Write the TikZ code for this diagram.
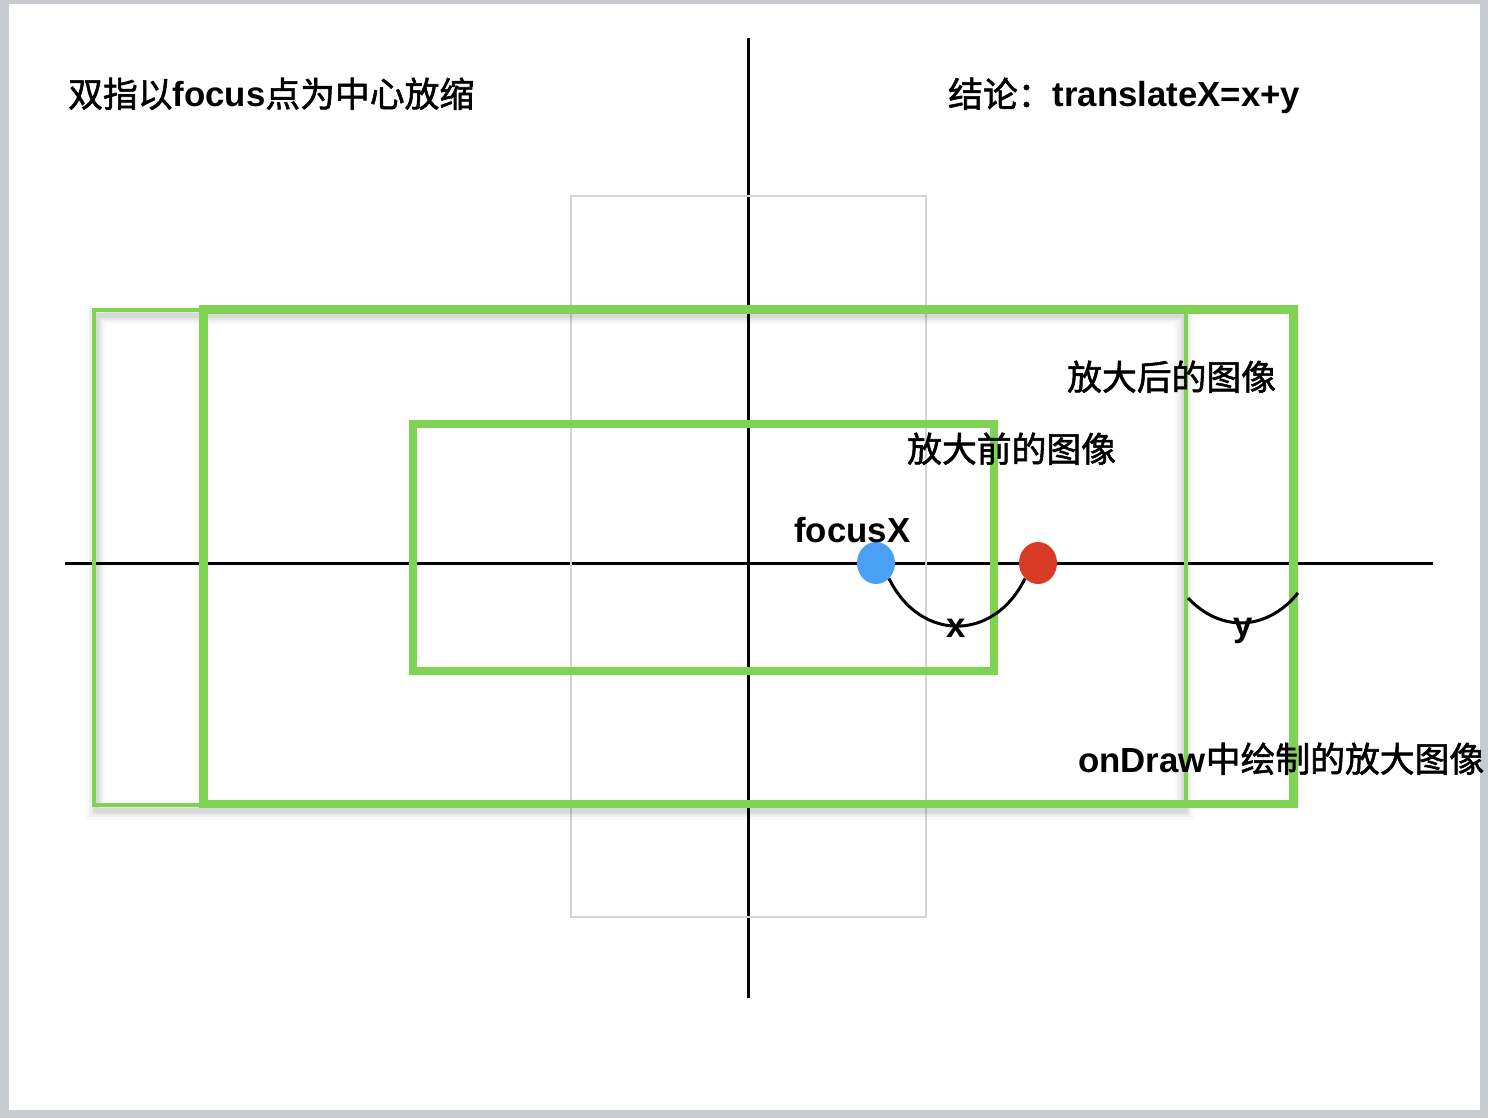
\documentclass[tikz,border=0pt]{standalone}
\usepackage{fontspec}
\usetikzlibrary{shapes.geometric}
\newfontfamily\cjk[FakeBold=1.6]{Noto Sans CJK SC}
\newfontfamily\lat{Liberation Sans}
\definecolor{frame}{RGB}{200,203,208}
\definecolor{grn}{RGB}{126,211,83}
\definecolor{lgray}{RGB}{212,212,212}
\definecolor{dotblue}{RGB}{74,160,245}
\definecolor{dotred}{RGB}{216,58,38}
\newcommand\ZHt[1]{{\cjk #1}}
\newcommand\LTt[1]{{\lat\bfseries #1}}
\tikzset{
  lbl/.style={anchor=base west, inner sep=0pt, font=\fontsize{34.8}{40}\selectfont},
  axisline/.style={line width=3pt, black},
  thinbox/.style={draw=grn, line width=3.5pt},
  thickbox/.style={draw=grn, line width=8.5pt},
  ghostbox/.style={draw=lgray, line width=1.5pt},
  dot/.style={ellipse, minimum width=38pt, minimum height=42pt, inner sep=0pt, draw=none},
  arcline/.style={line width=3pt, black},
}
\begin{document}
\begin{tikzpicture}[x=1pt,y=-1pt]
\useasboundingbox (0,0) rectangle (1488,1118);
\fill[frame] (0,0) rectangle (1488,1118);
\fill[white] (9,4) rectangle (1480,1110);
% axes
\draw[axisline] (748,38) -- (748,998);
\draw[axisline] (65,563) -- (1433,563);
% ghost rectangle
\draw[ghostbox] (571,196) rectangle (926,917);
% shadow of thin box
\foreach \w/\o in {20/0.025,14/0.035,9/0.045,5/0.05}{
  \draw[black, opacity=\o, line width=\w pt] (96,315) rectangle (1184,810);
}
\draw[thinbox] (94,310) rectangle (1186,805);
\draw[thickbox] (203.5,309.5) rectangle (1293.5,804);
\draw[thickbox] (413,424) rectangle (994,671);
% dots
\node[dot, fill=dotblue] (fx) at (876,563) {};
\node[dot, fill=dotred] (pt) at (1038,563) {};
% arcs
\draw[arcline] (fx.-50) .. controls (920,642) and (994,642) .. (pt.-130);
\coordinate (ys) at (1188,598);
\coordinate (ye) at (1298,593);
\draw[arcline] (ys) .. controls (1220,632) and (1266,632) .. (ye);
% texts
\node[lbl] (title) at (68,107) {\ZHt{双指以}\LTt{focus}\ZHt{点为中心放缩}};
\node[lbl] (concl) at (948,107) {\ZHt{结论：}\LTt{translateX=x+y}};
\node[lbl] (after) at (1067,390) {\ZHt{放大后的图像}};
\node[lbl] (before) at (907,462) {\ZHt{放大前的图像}};
\node[lbl] (focus) at (794,542) {\LTt{focusX}};
\node[lbl] (drawn) at (1078,772) {\LTt{onDraw}\ZHt{中绘制的放大图像}};
\node[lbl, anchor=base] (xl) at (956,637) {\LTt{x}};
\node[lbl, anchor=base] (yl) at (1243,636) {\LTt{y}};
\end{tikzpicture}
\end{document}
